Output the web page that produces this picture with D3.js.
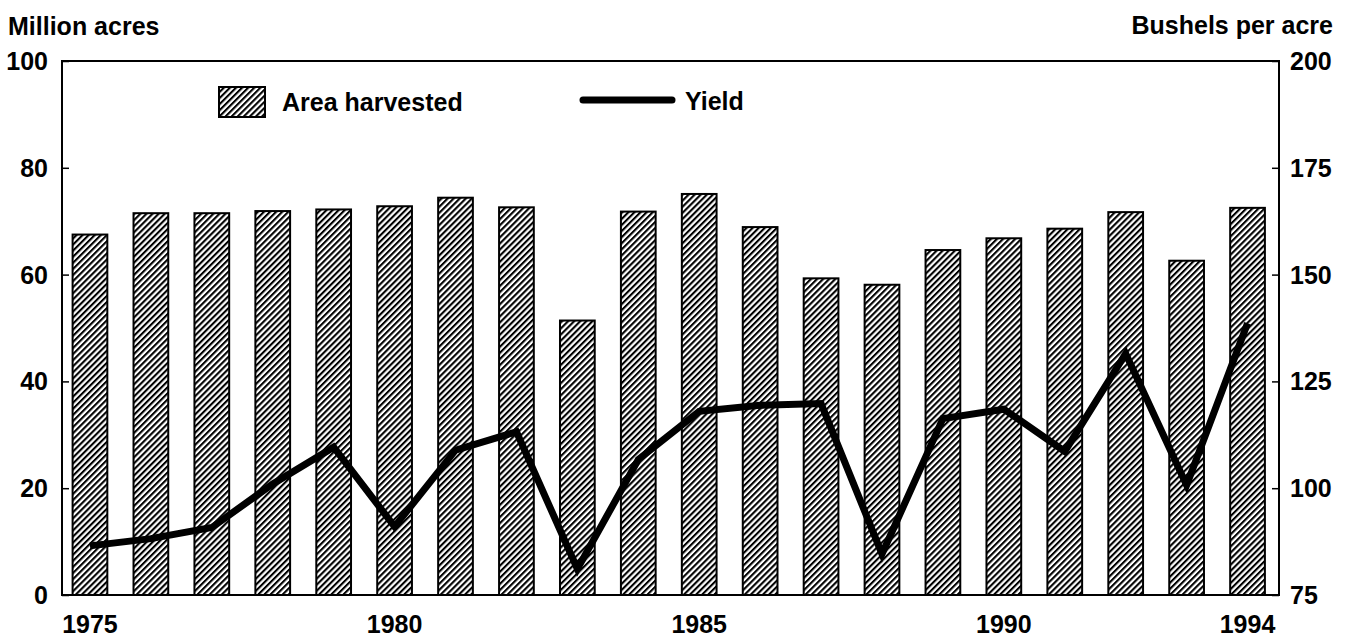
<!DOCTYPE html>
<html>
<head>
<meta charset="utf-8">
<script src="https://cdn.jsdelivr.net/npm/d3@7"></script>
<style>
  body { margin: 0; background: #fff; }
  svg text { font-family: "Liberation Sans", Arial, Helvetica, sans-serif; font-weight: bold; font-size: 25px; fill: #000; }
</style>
</head>
<body>
<svg width="1354" height="642"></svg>
<script>
var svg = d3.select("svg");

// data
var years = [1975, 1976, 1977, 1978, 1979, 1980, 1981, 1982, 1983, 1984,
             1985, 1986, 1987, 1988, 1989, 1990, 1991, 1992, 1993, 1994];
var areaHarvested = [67.5, 71.5, 71.5, 71.9, 72.2, 72.8, 74.4, 72.6, 51.4, 71.8,
                     75.1, 68.9, 59.3, 58.1, 64.6, 66.8, 68.6, 71.7, 62.6, 72.5];
var yieldBu = [86.5, 88.2, 90.8, 101.0, 109.6, 91.0, 108.9, 113.2, 81.1, 106.7,
               118.0, 119.4, 119.8, 84.6, 116.3, 118.5, 108.6, 131.5, 100.7, 138.6];
var leftTicks = [0, 20, 40, 60, 80, 100];
var rightTicks = [75, 100, 125, 150, 175, 200];
var yearLabels = [1975, 1980, 1985, 1990, 1994];

// plot frame ("top" is taken by window.top, so use other names)
var plotL = 62, plotR = 1279, plotT = 61, plotB = 595;

var x = d3.scaleBand()
    .domain(years)
    .range([59.5, 1278])
    .paddingInner(0.43)
    .paddingOuter(0.215);
var yL = d3.scaleLinear().domain([0, 100]).range([plotB, plotT]);
var yR = d3.scaleLinear().domain([75, 200]).range([plotB, plotT]);

// hatch pattern
var defs = svg.append("defs");
defs.append("pattern")
    .attr("id", "hatch")
    .attr("patternUnits", "userSpaceOnUse")
    .attr("width", 4.3)
    .attr("height", 10)
    .attr("patternTransform", "rotate(45)")
  .append("line")
    .attr("x1", 1).attr("y1", -1)
    .attr("x2", 1).attr("y2", 11)
    .attr("stroke", "#000")
    .attr("stroke-width", 2.2);

// bars
svg.append("g")
    .selectAll("rect")
    .data(years)
    .enter().append("rect")
    .attr("x", function(d) { return x(d); })
    .attr("y", function(d, i) { return yL(areaHarvested[i]); })
    .attr("width", x.bandwidth())
    .attr("height", function(d, i) { return yL(0) - yL(areaHarvested[i]); })
    .attr("fill", "url(#hatch)")
    .attr("stroke", "#000")
    .attr("stroke-width", 2);

// yield line
var line = d3.line()
    .x(function(d) { return x(d) + x.bandwidth() / 2; })
    .y(function(d, i) { return yR(yieldBu[i]); });

svg.append("path")
    .datum(years)
    .attr("d", line)
    .attr("fill", "none")
    .attr("stroke", "#000")
    .attr("stroke-width", 7)
    .attr("stroke-linejoin", "miter")
    .attr("stroke-linecap", "butt");

// frame
svg.append("rect")
    .attr("x", plotL).attr("y", plotT)
    .attr("width", plotR - plotL).attr("height", plotB - plotT)
    .attr("fill", "none")
    .attr("stroke", "#000")
    .attr("stroke-width", 2);

// left axis (ticks inside)
var axL = svg.append("g")
    .attr("transform", "translate(" + plotL + ",0)")
    .call(d3.axisRight(yL).tickValues(leftTicks).tickSize(7).tickFormat(""));
axL.select(".domain").remove();
axL.selectAll("line").attr("stroke-width", 1.5);
svg.append("g").selectAll("text")
    .data(leftTicks)
    .enter().append("text")
    .attr("x", 48)
    .attr("y", function(d) { return yL(d); })
    .attr("dy", "0.36em")
    .attr("text-anchor", "end")
    .text(function(d) { return d; });

// right axis (ticks inside)
var axR = svg.append("g")
    .attr("transform", "translate(" + plotR + ",0)")
    .call(d3.axisLeft(yR).tickValues(rightTicks).tickSize(7).tickFormat(""));
axR.select(".domain").remove();
axR.selectAll("line").attr("stroke-width", 1.5);
svg.append("g").selectAll("text")
    .data(rightTicks)
    .enter().append("text")
    .attr("x", 1290)
    .attr("y", function(d) { return yR(d); })
    .attr("dy", "0.36em")
    .text(function(d) { return d; });

// year labels
svg.append("g").selectAll("text")
    .data(yearLabels)
    .enter().append("text")
    .attr("x", function(d) { return x(d) + x.bandwidth() / 2; })
    .attr("y", 633)
    .attr("text-anchor", "middle")
    .text(function(d) { return d; });

// axis titles
svg.append("text")
    .attr("x", 8).attr("y", 35)
    .text("Million acres");
svg.append("text")
    .attr("x", 1333).attr("y", 34)
    .attr("text-anchor", "end")
    .text("Bushels per acre");

// legend
var legend = svg.append("g");
legend.append("rect")
    .attr("x", 219).attr("y", 87)
    .attr("width", 46).attr("height", 30)
    .attr("fill", "url(#hatch)")
    .attr("stroke", "#000")
    .attr("stroke-width", 2);
legend.append("text")
    .attr("x", 282).attr("y", 111)
    .text("Area harvested");
legend.append("line")
    .attr("x1", 583).attr("x2", 672)
    .attr("y1", 100).attr("y2", 100)
    .attr("stroke", "#000")
    .attr("stroke-width", 7)
    .attr("stroke-linecap", "round");
legend.append("text")
    .attr("x", 685).attr("y", 110)
    .text("Yield");
</script>
</body>
</html>
